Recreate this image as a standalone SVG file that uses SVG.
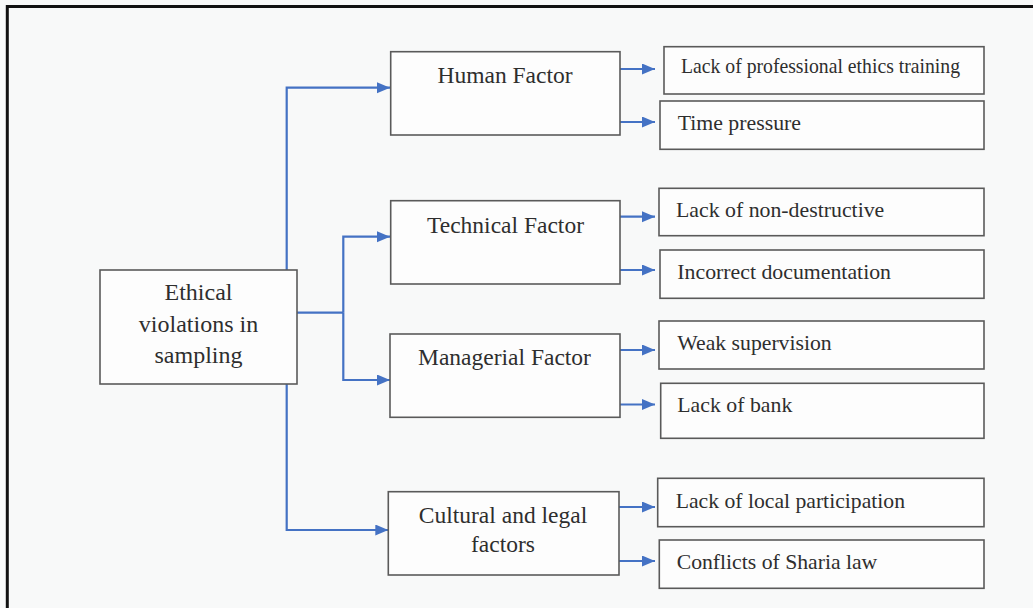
<svg xmlns="http://www.w3.org/2000/svg" width="1033" height="608" viewBox="0 0 1033 608">
<style>
.box{fill:#fdfdfd;stroke:#5a5a5a;stroke-width:1.6}
.t{font-family:"Liberation Serif","Times New Roman",serif;fill:#2e2e2e}
.big{font-size:24px;text-anchor:middle}
.fac{font-size:23.5px;text-anchor:middle}
.sm{font-size:21px}
.conn{fill:none;stroke:#4472C4;stroke-width:2.2}
</style>
<defs>
<marker id="ah" markerUnits="userSpaceOnUse" markerWidth="14" markerHeight="12" refX="13" refY="5.5" orient="auto">
<path d="M0,0 L13,5.5 L0,11 z" fill="#4472C4"/>
</marker>
</defs>
<rect x="0" y="0" width="1033" height="608" fill="#f8f9f9"/>
<path d="M7.3,608 V6.5 H1033" fill="none" stroke="#111" stroke-width="3"/>

<g id="connectors">
<path class="conn" d="M286.7,270 V87.7 H390" marker-end="url(#ah)"/>
<path class="conn" d="M297,312.7 H343.3"/>
<path class="conn" d="M343.3,312.7 V236.7 H390" marker-end="url(#ah)"/>
<path class="conn" d="M343.3,312.7 V380 H390" marker-end="url(#ah)"/>
<path class="conn" d="M286.7,384 V530 H388.3" marker-end="url(#ah)"/>
<path class="conn" d="M620,69 H655" marker-end="url(#ah)"/>
<path class="conn" d="M620,122 H655" marker-end="url(#ah)"/>
<path class="conn" d="M620,216.7 H655" marker-end="url(#ah)"/>
<path class="conn" d="M620,270 H655" marker-end="url(#ah)"/>
<path class="conn" d="M620,350 H655" marker-end="url(#ah)"/>
<path class="conn" d="M620,404.5 H655" marker-end="url(#ah)"/>
<path class="conn" d="M619,507 H655" marker-end="url(#ah)"/>
<path class="conn" d="M619,561 H655" marker-end="url(#ah)"/>
</g>

<g id="root">
<rect class="box" x="100" y="270" width="197" height="114"/>
<text class="t big" x="198.5" y="300">Ethical</text>
<text class="t big" x="198.5" y="331.7">violations in</text>
<text class="t big" x="198.5" y="363">sampling</text>
</g>

<g id="human">
<rect class="box" x="390.7" y="51.7" width="229.3" height="83.3"/>
<text class="t fac" x="505" y="83.3">Human Factor</text>
</g>
<g id="technical">
<rect class="box" x="390.7" y="200.7" width="229.3" height="83.3"/>
<text class="t fac" x="505.5" y="232.7">Technical Factor</text>
</g>
<g id="managerial">
<rect class="box" x="390" y="334" width="230" height="83.3"/>
<text class="t fac" x="504.5" y="365">Managerial Factor</text>
</g>
<g id="cultural">
<rect class="box" x="388.3" y="491.7" width="230.7" height="83.3"/>
<text class="t fac" x="503" y="523.3">Cultural and legal</text>
<text class="t fac" x="503" y="552">factors</text>
</g>

<g id="s1">
<rect class="box" x="664" y="46.7" width="320" height="47.3"/>
<text class="t sm" x="681" y="73.3" textLength="279" lengthAdjust="spacingAndGlyphs">Lack of professional ethics training</text>
</g>
<g id="s2">
<rect class="box" x="660" y="101" width="324" height="48.3"/>
<text class="t sm" x="677.7" y="130" textLength="123.3" lengthAdjust="spacingAndGlyphs">Time pressure</text>
</g>
<g id="s3">
<rect class="box" x="659" y="188.3" width="325" height="47.4"/>
<text class="t sm" x="676" y="216.7" textLength="208.3" lengthAdjust="spacingAndGlyphs">Lack of non-destructive</text>
</g>
<g id="s4">
<rect class="box" x="660" y="250" width="324" height="48.3"/>
<text class="t sm" x="677.3" y="279.3" textLength="213.7" lengthAdjust="spacingAndGlyphs">Incorrect documentation</text>
</g>
<g id="s5">
<rect class="box" x="659" y="321" width="325" height="48"/>
<text class="t sm" x="677.3" y="350" textLength="154.4" lengthAdjust="spacingAndGlyphs">Weak supervision</text>
</g>
<g id="s6">
<rect class="box" x="660.7" y="383.3" width="323.3" height="55"/>
<text class="t sm" x="677.3" y="411.7" textLength="115" lengthAdjust="spacingAndGlyphs">Lack of bank</text>
</g>
<g id="s7">
<rect class="box" x="657.7" y="478.3" width="326.3" height="48.4"/>
<text class="t sm" x="675.7" y="508.3" textLength="229.3" lengthAdjust="spacingAndGlyphs">Lack of local participation</text>
</g>
<g id="s8">
<rect class="box" x="659.3" y="540" width="324.7" height="48.3"/>
<text class="t sm" x="676.7" y="569.3" textLength="200.6" lengthAdjust="spacingAndGlyphs">Conflicts of Sharia law</text>
</g>
</svg>
